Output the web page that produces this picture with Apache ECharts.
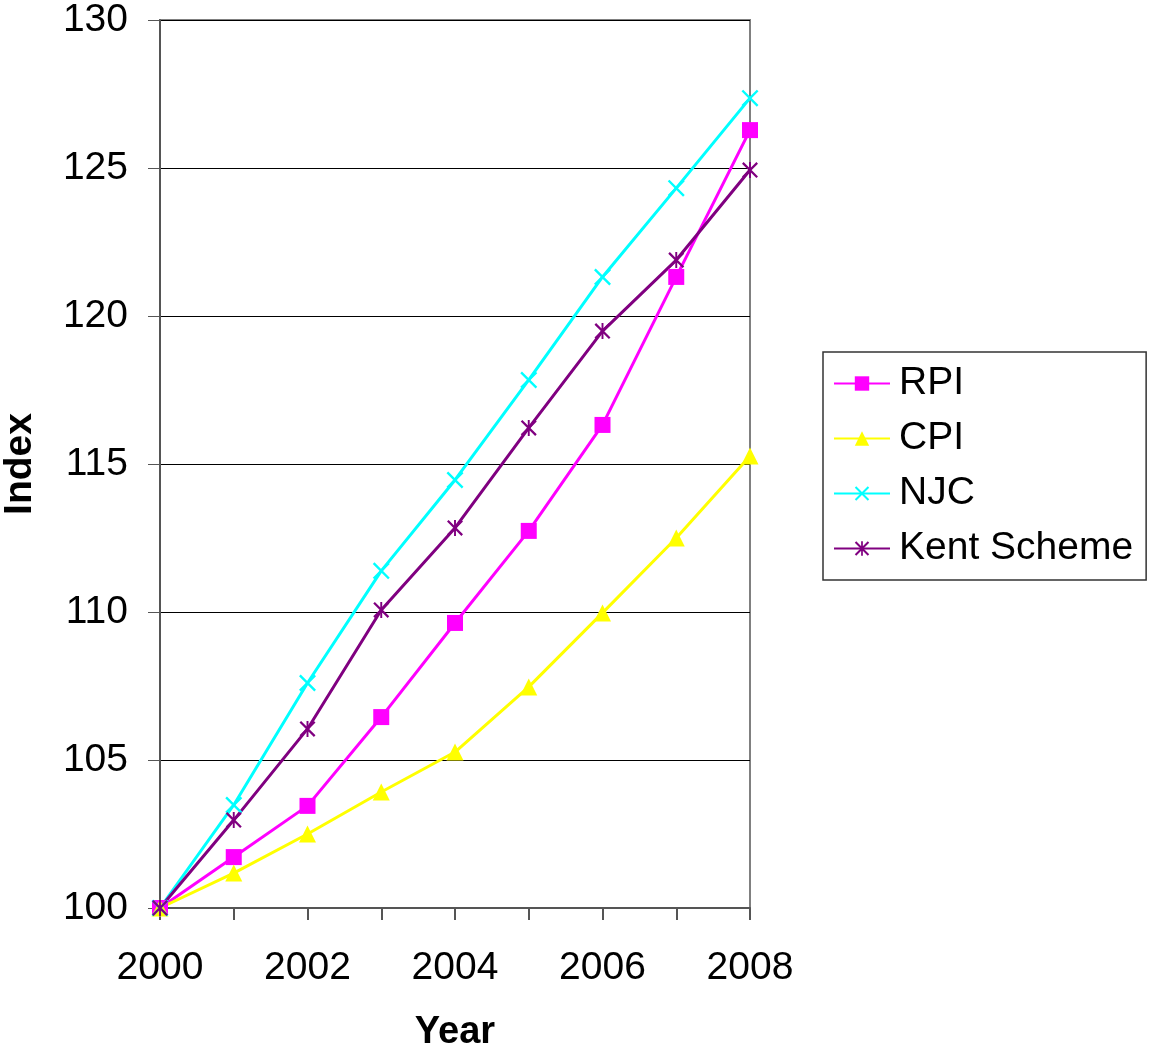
<!DOCTYPE html>
<html><head><meta charset="utf-8">
<script src="https://cdn.jsdelivr.net/npm/echarts@6/dist/echarts.min.js"></script>
<style>html,body{margin:0;padding:0;background:#fff}#c{width:1150px;height:1056px}</style>
</head><body><div id="c"></div>
<script>
const years = ['2000','2001','2002','2003','2004','2005','2006','2007','2008'];
const rpi  = [100, 101.72, 103.45, 106.45, 109.63, 112.74, 116.32, 121.32, 126.28];
const cpi  = [100, 101.18, 102.5, 103.92, 105.27, 107.47, 109.97, 112.5, 115.27];
const njc  = [100, 103.48, 107.6, 111.39, 114.46, 117.84, 121.32, 124.32, 127.36];
const kent = [100, 102.97, 106.05, 110.07, 112.84, 116.22, 119.49, 121.89, 124.93];

const crossPath = 'path://M0,1L1,0L10,9L9,10Z M9,0L10,1L1,10L0,9Z';
const starPath = 'path://M0,1L1,0L10,9L9,10Z M9,0L10,1L1,10L0,9Z M4.4,0L5.6,0L5.6,10L4.4,10Z';
const font = 'Liberation Sans, Arial, sans-serif';

function mk(name, data, color, symbol, size) {
  return {
    name, type: 'line', data, symbol, symbolSize: size,
    lineStyle: { color, width: 3 },
    itemStyle: { color },
    emphasis: { disabled: true },
    animation: false
  };
}

const chart = echarts.init(document.getElementById('c'));
chart.setOption({
  animation: false,
  backgroundColor: '#fff',
  grid: { left: 160, top: 20, right: 400, bottom: 148, outerBoundsMode: 'none', containLabel: false,
          show: true, borderColor: '#808080', borderWidth: 2, backgroundColor: 'transparent' },
  legend: {
    orient: 'vertical', left: 823, top: 352,
    padding: [12, 13, 12, 10],
    backgroundColor: '#fff', borderColor: '#333', borderWidth: 1.5,
    itemWidth: 56, itemHeight: 18, itemGap: 16,
    textStyle: { fontFamily: font, fontSize: 39, color: '#000', padding: [0, 0, 0, 4] },
    data: ['RPI', 'CPI', 'NJC', 'Kent Scheme']
  },
  xAxis: {
    type: 'category', data: years, boundaryGap: false,
    name: 'Year', nameLocation: 'middle', nameGap: 106,
    nameTextStyle: { fontFamily: font, fontSize: 38, fontWeight: 'bold', color: '#000' },
    axisLine: { lineStyle: { color: '#555', width: 2 } },
    axisTick: { show: true, interval: 0, length: 12, lineStyle: { color: '#555', width: 2 } },
    axisLabel: { interval: 1, margin: 41, fontFamily: font, fontSize: 39, color: '#000' },
    splitLine: { show: false }
  },
  yAxis: {
    type: 'value', min: 100, max: 130, interval: 5,
    name: 'Index', nameLocation: 'middle', nameGap: 120, nameRotate: 90,
    nameTextStyle: { fontFamily: font, fontSize: 39, fontWeight: 'bold', color: '#000' },
    axisLine: { show: true, lineStyle: { color: '#555', width: 2 } },
    axisTick: { show: true, length: 12, lineStyle: { color: '#555', width: 1 } },
    axisLabel: { margin: 32, fontFamily: font, fontSize: 39, color: '#000' },
    splitLine: { show: true, lineStyle: { color: '#000', width: 1 } }
  },
  series: [
    mk('RPI', rpi, '#FF00FF', 'rect', 16),
    mk('CPI', cpi, '#FFFF00', 'triangle', 17),
    mk('NJC', njc, '#00FFFF', crossPath, 17),
    mk('Kent Scheme', kent, '#800080', starPath, 16)
  ]
});
</script></body></html>
